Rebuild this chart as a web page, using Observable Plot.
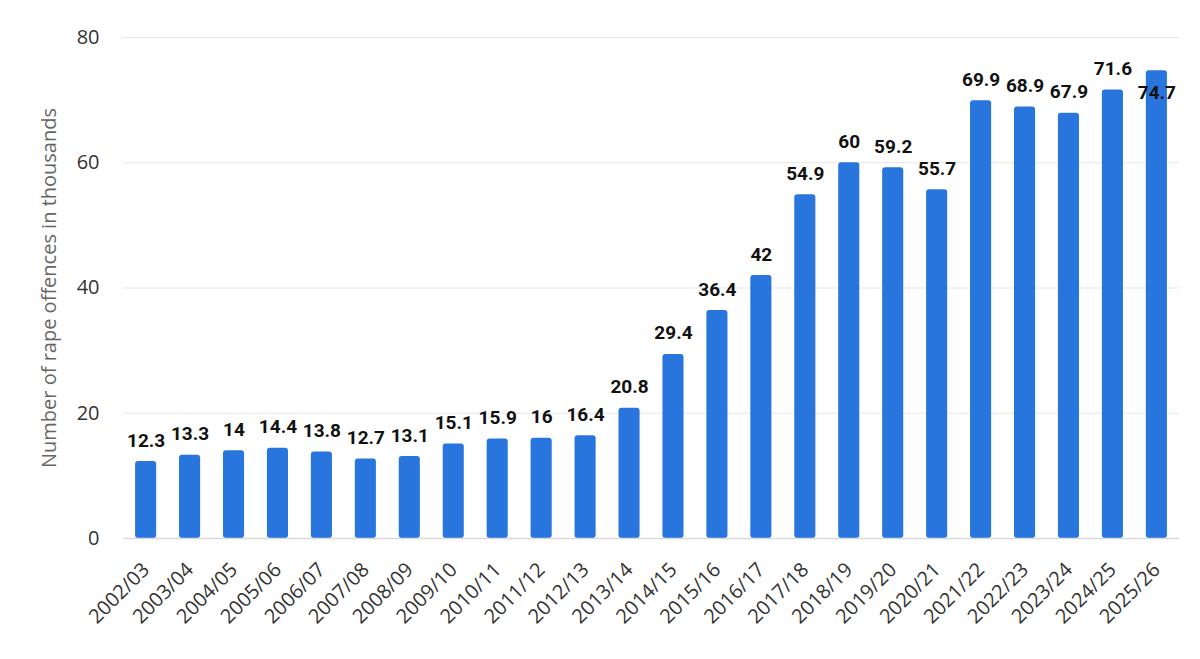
<!DOCTYPE html>
<html>
<head>
<meta charset="utf-8">
<script src="https://cdn.jsdelivr.net/npm/d3@7"></script>
<script src="https://cdn.jsdelivr.net/npm/@observablehq/plot@0.6"></script>
<style>
  html, body { margin: 0; padding: 0; background: #fff; }
  #chart svg { display: block; }
  #chart g[aria-label="y-axis tick label"] { font-size: 20px; fill: #333; }
  #chart g[aria-label="x-axis tick label"] { font-size: 20px; fill: #333; }
</style>
</head>
<body>
<div id="chart"></div>
<script>
const years = ["2002/03","2003/04","2004/05","2005/06","2006/07","2007/08","2008/09","2009/10","2010/11","2011/12","2012/13","2013/14","2014/15","2015/16","2016/17","2017/18","2018/19","2019/20","2020/21","2021/22","2022/23","2023/24","2024/25","2025/26"];
const offences = [12.3,13.3,14,14.4,13.8,12.7,13.1,15.1,15.9,16,16.4,20.8,29.4,36.4,42,54.9,60,59.2,55.7,69.9,68.9,67.9,71.6,74.7];
const yTicks = [0,20,40,60,80];
const yLabel = "Number of rape offences in thousands";

const data = years.map((year, i) => ({year, value: offences[i], last: i === years.length - 1}));

const chart = Plot.plot({
  width: 1200,
  height: 659,
  marginTop: 37,
  marginBottom: 121,
  marginLeft: 123,
  marginRight: 21,
  style: {fontFamily: "'Open Sans', sans-serif", fontSize: "19px", color: "#333", background: "#fff"},
  x: {domain: years, paddingInner: 0.52, paddingOuter: 0.275, round: false, label: null},
  y: {domain: [0, 80], label: null},
  marks: [
    Plot.ruleY(yTicks.filter(d => d > 0), {stroke: "#e6e6e6", strokeWidth: 1}),
    Plot.barY(data, {x: "year", y: "value", fill: "#2876dd", rx: 3}),
    Plot.ruleY([0], {stroke: "#d9d9d9", strokeWidth: 1.5}),
    Plot.text(data.filter(d => !d.last), {x: "year", y: "value", text: d => String(d.value), dy: -21, lineAnchor: "middle", fontFamily: "Roboto, sans-serif", fontWeight: "bold", fontSize: 19, fill: "#111"}),
    Plot.text(data.filter(d => d.last), {x: "year", y: "value", text: d => String(d.value), dy: 22, lineAnchor: "middle", fontFamily: "Roboto, sans-serif", fontWeight: "bold", fontSize: 19, fill: "#111"}),
    Plot.axisY({ticks: yTicks, tickSize: 0, tickPadding: 24, label: null}),
    Plot.axisX({tickSize: 0, tickRotate: -45, tickPadding: 28, label: null}),
    Plot.text([yLabel], {frameAnchor: "left", textAnchor: "middle", rotate: -90, dx: -74, fill: "#666", fontSize: 20, lineAnchor: "middle"})
  ]
});
document.getElementById("chart").appendChild(chart);
</script>
</body>
</html>
